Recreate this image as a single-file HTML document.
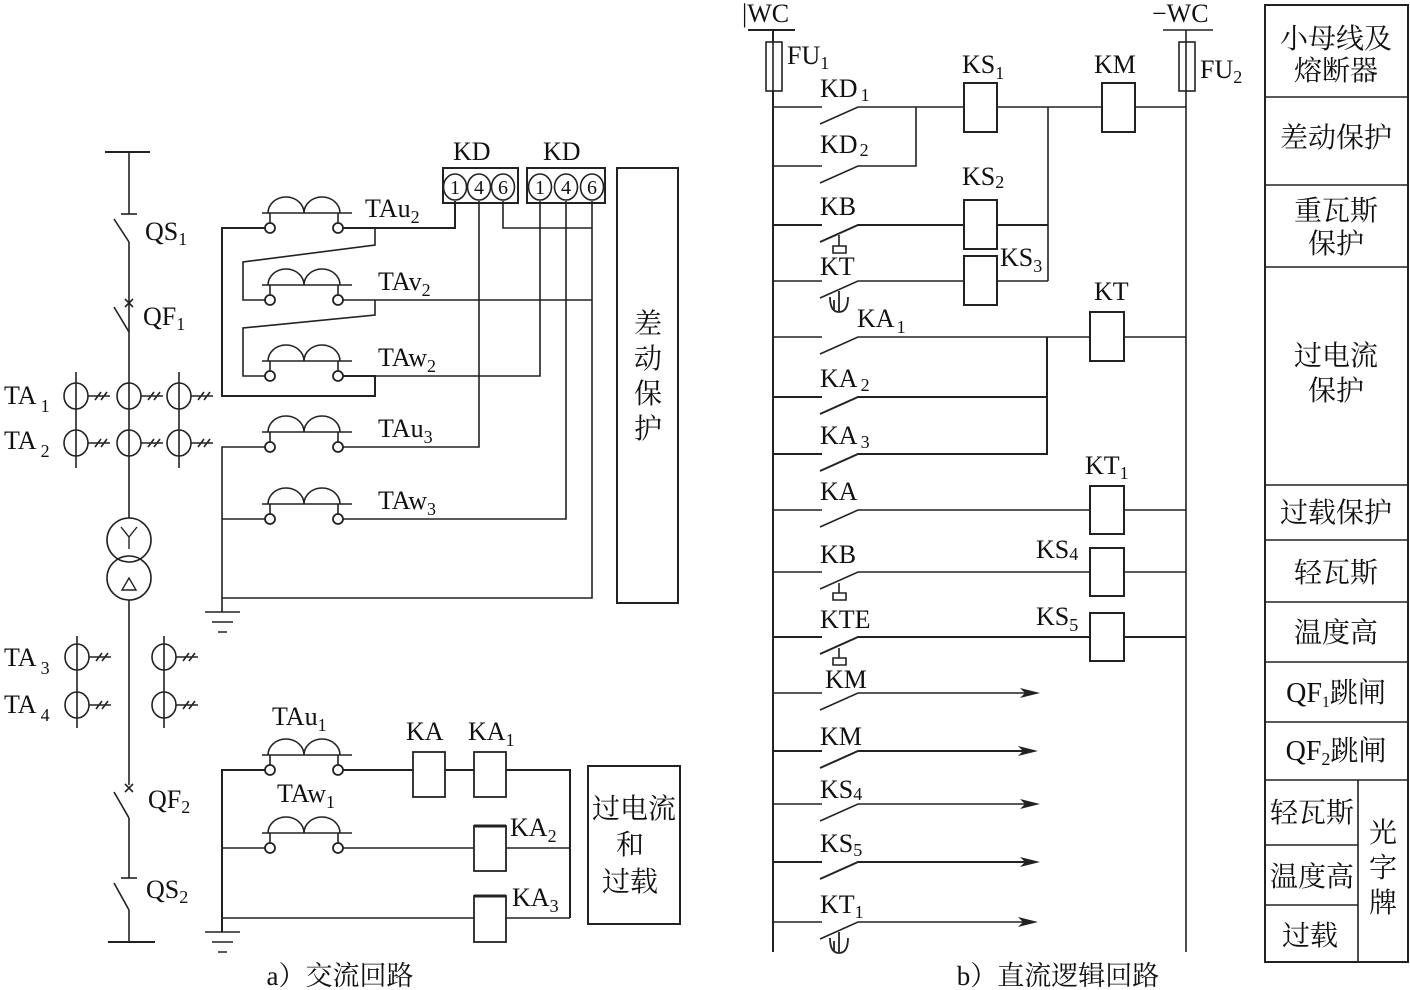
<!DOCTYPE html>
<html><head><meta charset="utf-8"><style>
html,body{margin:0;padding:0;background:#fff;}
svg{display:block;}
text{font-family:"Liberation Serif","Noto Serif CJK SC",serif;fill:#111;}
.c{font-family:"Liberation Serif","Noto Serif CJK SC","Noto Sans CJK SC",serif;}
</style></head><body>
<svg width="1410" height="990" viewBox="0 0 1410 990" xmlns="http://www.w3.org/2000/svg">
<g stroke="#222" stroke-width="1.6" fill="none">
<line x1="105" y1="152" x2="150" y2="152" stroke-width="2"/>
<line x1="129" y1="152" x2="129" y2="214"/>
<line x1="121" y1="214" x2="137" y2="214"/>
<line x1="114" y1="219" x2="129" y2="242"/>
<line x1="129" y1="242" x2="129" y2="518"/>
<path d="M125,299 l8,8 M133,299 l-8,8"/>
<line x1="114" y1="307" x2="129" y2="332"/>
<line x1="76" y1="372" x2="76" y2="468"/>
<line x1="179" y1="372" x2="179" y2="468"/>
<g>
<ellipse cx="76" cy="396" rx="12" ry="13"/><ellipse cx="129" cy="396" rx="12" ry="13"/><ellipse cx="179" cy="396" rx="12" ry="13"/>
<ellipse cx="76" cy="443" rx="12" ry="13"/><ellipse cx="129" cy="443" rx="12" ry="13"/><ellipse cx="179" cy="443" rx="12" ry="13"/>
<path d="M88,396 h22 M95,400 l6,-8 M101,400 l6,-8 M141,396 h22 M148,400 l6,-8 M154,400 l6,-8 M191,396 h22 M198,400 l6,-8 M204,400 l6,-8"/>
<path d="M88,443 h22 M95,447 l6,-8 M101,447 l6,-8 M141,443 h22 M148,447 l6,-8 M154,447 l6,-8 M191,443 h22 M198,447 l6,-8 M204,447 l6,-8"/>
</g>
<circle cx="129" cy="540" r="22"/><circle cx="129" cy="578" r="22"/>
<path d="M121,527 l8,10 l8,-10 M129,537 v12" stroke-width="1.4"/>
<path d="M122,590 l7,-12 l7,12 z" stroke-width="1.4"/>
<line x1="129" y1="600" x2="129" y2="785"/>
<line x1="77" y1="636" x2="77" y2="728"/><line x1="164" y1="636" x2="164" y2="728"/>
<ellipse cx="77" cy="657" rx="12" ry="13"/><ellipse cx="164" cy="657" rx="12" ry="13"/>
<ellipse cx="77" cy="705" rx="12" ry="13"/><ellipse cx="164" cy="705" rx="12" ry="13"/>
<path d="M89,657 h22 M96,661 l6,-8 M102,661 l6,-8 M176,657 h22 M183,661 l6,-8 M189,661 l6,-8"/>
<path d="M89,705 h22 M96,709 l6,-8 M102,709 l6,-8 M176,705 h22 M183,709 l6,-8 M189,709 l6,-8"/>
<path d="M125,784 l8,8 M133,784 l-8,8"/>
<line x1="114" y1="792" x2="129" y2="818"/>
<line x1="129" y1="818" x2="129" y2="878"/>
<line x1="121" y1="878" x2="137" y2="878"/>
<line x1="114" y1="883" x2="129" y2="910"/>
<line x1="129" y1="910" x2="129" y2="942"/>
<line x1="108" y1="942" x2="155" y2="942" stroke-width="2"/>

<g>
<path d="M268,213 a18,16 0 0 1 36,0 a18,16 0 0 1 36,0 M262,213 h90 M270,213 v10 M338,213 v10"/>
<path d="M268,285 a18,16 0 0 1 36,0 a18,16 0 0 1 36,0 M262,285 h90 M270,285 v10 M338,285 v10"/>
<path d="M268,361 a18,16 0 0 1 36,0 a18,16 0 0 1 36,0 M262,361 h90 M270,361 v10 M338,361 v10"/>
<path d="M268,432 a18,16 0 0 1 36,0 a18,16 0 0 1 36,0 M262,432 h90 M270,432 v10 M338,432 v10"/>
<path d="M268,504 a18,16 0 0 1 36,0 a18,16 0 0 1 36,0 M262,504 h90 M270,504 v10 M338,504 v10"/>
<path d="M268,755 a18,16 0 0 1 36,0 a18,16 0 0 1 36,0 M262,755 h90 M270,755 v10 M338,755 v10"/>
<path d="M268,833 a18,16 0 0 1 36,0 a18,16 0 0 1 36,0 M262,833 h90 M270,833 v10 M338,833 v10"/>
</g>
<g fill="#fff" stroke-width="1.8">
<circle cx="270" cy="228" r="5"/><circle cx="338" cy="228" r="5"/>
<circle cx="270" cy="300" r="5"/><circle cx="338" cy="300" r="5"/>
<circle cx="270" cy="376" r="5"/><circle cx="338" cy="376" r="5"/>
<circle cx="270" cy="447" r="5"/><circle cx="338" cy="447" r="5"/>
<circle cx="270" cy="519" r="5"/><circle cx="338" cy="519" r="5"/>
<circle cx="270" cy="770" r="5"/><circle cx="338" cy="770" r="5"/>
<circle cx="270" cy="848" r="5"/><circle cx="338" cy="848" r="5"/>
</g>
<path d="M265,228 H222 V396 H375 V376 H343" stroke-width="2"/>
<path d="M343,228 H455 V201" stroke-width="2"/>
<path d="M375,228 V245 L243,262 V300 H265"/>
<path d="M343,300 H592"/>
<path d="M375,300 V315 L243,328 V376 H265"/>
<path d="M343,376 H540 V201"/>
<path d="M503,201 V228 H592"/>
<path d="M592,201 V598 H222 V447 H265" />
<path d="M343,447 H479 V201"/>
<path d="M222,519 H265 M343,519 H566 V201"/>
<path d="M222,598 V612 M205,612 h35 M212,622 h21 M218,632 h9"/>
<rect x="443" y="168" width="75" height="35" stroke-width="2"/>
<rect x="527" y="168" width="78" height="35" stroke-width="2"/>
<ellipse cx="455" cy="187" rx="11.5" ry="13"/><ellipse cx="479" cy="187" rx="11.5" ry="13"/><ellipse cx="503" cy="187" rx="11.5" ry="13"/>
<ellipse cx="540" cy="187" rx="11.5" ry="13"/><ellipse cx="566" cy="187" rx="11.5" ry="13"/><ellipse cx="592" cy="187" rx="11.5" ry="13"/>
<rect x="617" y="168" width="61" height="435" stroke-width="2"/>
<path d="M265,770 H222 V932 M343,770 H413 M445,770 H474 M506,770 H570 V918" stroke-width="2"/>
<path d="M222,848 H265 M343,848 H474 M506,848 H570"/>
<path d="M222,918 H474 M506,918 H570"/>
<rect x="413" y="752" width="32" height="45" stroke-width="1.8"/>
<rect x="474" y="752" width="32" height="45" stroke-width="1.8"/>
<rect x="474" y="826" width="32" height="45" stroke-width="1.8"/>
<rect x="474" y="896" width="32" height="46" stroke-width="1.8"/>
<path d="M474,826 h32 M474,896 h32" stroke-width="3"/>
<path d="M205,932 h35 M212,942 h21 M218,952 h9"/>
<rect x="588" y="766" width="92" height="158" stroke-width="2"/>

<line x1="748" y1="30" x2="795" y2="30" stroke-width="2"/>
<line x1="1163" y1="30" x2="1213" y2="30"/>
<line x1="773" y1="30" x2="773" y2="952" stroke-width="2"/>
<line x1="1186" y1="30" x2="1186" y2="952"/>
<rect x="766" y="42" width="16" height="49" fill="#fff"/>
<rect x="1179" y="42" width="16" height="49" fill="#fff"/>
<line x1="773" y1="42" x2="773" y2="91"/><line x1="1186" y1="42" x2="1186" y2="91"/>
<path d="M773,107 H822 M820,124 L858,107 H964 M997,107 H1102 M1135,107 H1186"/>
<path d="M773,166 H822 M820,183 L858,166 H916 V107 M1048,107 V281"/>
<path d="M773,225 H822 M820,242 L858,225 H964 M997,225 H1048" stroke-width="2"/>
<path d="M839,235 v11 M833,246 h13 v7 h-13 z"/>
<path d="M773,281 H822 M820,298 L858,281 H964 M997,281 H1048"/>
<path d="M839,291 v20 M830,297 q0,15 9,15 q9,0 9,-15 M834,300 v10" stroke-width="1.8"/>
<path d="M773,337 H822 M820,354 L858,337 H1090 M1124,337 H1186"/>
<path d="M773,397 H822 M820,414 L858,397 H1047 V337" stroke-width="2"/>
<path d="M773,454 H822 M820,471 L858,454 H1047 V397" stroke-width="2"/>
<path d="M773,510 H822 M820,527 L858,510 H1090 M1124,510 H1186"/>
<path d="M773,572 H822 M820,589 L858,572 H1090 M1124,572 H1186"/>
<path d="M839,583 v10 M833,593 h13 v7 h-13 z"/>
<path d="M773,637 H822 M820,654 L858,637 H1090 M1124,637 H1186" stroke-width="2"/>
<path d="M839,648 v10 M833,658 h13 v7 h-13 z"/>
<path d="M773,693 H822 M820,710 L858,693 H1030"/>
<path d="M773,751 H822 M820,768 L858,751 H1030" stroke-width="2"/>
<path d="M773,804 H822 M820,821 L858,804 H1030"/>
<path d="M773,862 H822 M820,879 L858,862 H1030" stroke-width="2"/>
<path d="M773,922 H822 M820,939 L858,922 H1030"/>
<path d="M839,932 v20 M830,938 q0,15 9,15 q9,0 9,-15 M834,941 v10" stroke-width="1.8"/>
<g fill="#222" stroke="none">
<path d="M1040,693 l-20,-5 l5,5 l-5,5 z"/>
<path d="M1038,751 l-20,-5 l5,5 l-5,5 z"/>
<path d="M1040,804 l-20,-5 l5,5 l-5,5 z"/>
<path d="M1040,862 l-20,-5 l5,5 l-5,5 z"/>
<path d="M1038,922 l-20,-5 l5,5 l-5,5 z"/>
</g>
<g stroke-width="2" fill="#fff">
<rect x="964" y="83" width="33" height="49"/>
<rect x="1102" y="83" width="33" height="49"/>
<rect x="964" y="200" width="33" height="49"/>
<rect x="964" y="256" width="33" height="49"/>
<rect x="1090" y="312" width="34" height="49"/>
<rect x="1090" y="486" width="34" height="48"/>
<rect x="1090" y="548" width="34" height="48"/>
<rect x="1090" y="613" width="34" height="48"/>
</g>
<rect x="1265" y="5" width="143" height="957" stroke-width="2"/>
<path d="M1265,97 h143 M1265,185 h143 M1265,267 h143 M1265,485 h143 M1265,540 h143 M1265,602 h143 M1265,662 h143 M1265,722 h143 M1265,780 h143 M1265,845 h93 M1265,905 h93 M1358,780 v182"/>
</g>

<g font-size="26">
<text x="145" y="240">QS<tspan font-size="18" dy="5">1</tspan></text>
<text x="143" y="325">QF<tspan font-size="18" dy="5">1</tspan></text>
<text x="4" y="404">TA<tspan font-size="18" dx="4" dy="8">1</tspan></text>
<text x="4" y="449">TA<tspan font-size="18" dx="4" dy="8">2</tspan></text>
<text x="4" y="666">TA<tspan font-size="18" dx="4" dy="8">3</tspan></text>
<text x="4" y="713">TA<tspan font-size="18" dx="4" dy="8">4</tspan></text>
<text x="148" y="808">QF<tspan font-size="18" dy="5">2</tspan></text>
<text x="146" y="898">QS<tspan font-size="18" dy="5">2</tspan></text>
<text x="365" y="217">TAu<tspan font-size="18" dy="6">2</tspan></text>
<text x="378" y="290">TAv<tspan font-size="18" dy="6">2</tspan></text>
<text x="378" y="366">TAw<tspan font-size="18" dy="6">2</tspan></text>
<text x="378" y="437">TAu<tspan font-size="18" dy="6">3</tspan></text>
<text x="378" y="509">TAw<tspan font-size="18" dy="6">3</tspan></text>
<text x="453" y="160">KD</text>
<text x="543" y="160">KD</text>
<g font-size="20" text-anchor="middle"><text x="455" y="194">1</text><text x="479" y="194">4</text><text x="503" y="194">6</text><text x="540" y="194">1</text><text x="566" y="194">4</text><text x="592" y="194">6</text></g>
<text x="272" y="725">TAu<tspan font-size="18" dy="6">1</tspan></text>
<text x="277" y="802">TAw<tspan font-size="18" dy="6">1</tspan></text>
<text x="406" y="740">KA</text>
<text x="468" y="740">KA<tspan font-size="18" dy="6">1</tspan></text>
<text x="510" y="836">KA<tspan font-size="18" dy="6">2</tspan></text>
<text x="512" y="906">KA<tspan font-size="18" dy="6">3</tspan></text>

<text x="742" y="22">|WC</text>
<text x="1152" y="22">−WC</text>
<text x="787" y="64">FU<tspan font-size="18" dy="5">1</tspan></text>
<text x="1200" y="78">FU<tspan font-size="18" dy="5">2</tspan></text>
<text x="820" y="97">KD<tspan font-size="18" dx="3" dy="4">1</tspan></text>
<text x="820" y="153">KD<tspan font-size="18" dx="2" dy="3">2</tspan></text>
<text x="962" y="73">KS<tspan font-size="18" dy="6">1</tspan></text>
<text x="1094" y="73">KM</text>
<text x="962" y="185">KS<tspan font-size="18" dy="3">2</tspan></text>
<text x="820" y="215">KB</text>
<text x="820" y="275">KT</text>
<text x="1000" y="266">KS<tspan font-size="18" dy="6">3</tspan></text>
<text x="1094" y="300">KT</text>
<text x="857" y="327">KA<tspan font-size="18" dx="2" dy="6">1</tspan></text>
<text x="820" y="387">KA<tspan font-size="18" dx="3" dy="4">2</tspan></text>
<text x="820" y="444">KA<tspan font-size="18" dx="3" dy="4">3</tspan></text>
<text x="1085" y="474">KT<tspan font-size="18" dy="5">1</tspan></text>
<text x="820" y="500">KA</text>
<text x="1036" y="558">KS<tspan font-size="18" dy="2">4</tspan></text>
<text x="820" y="563">KB</text>
<text x="1036" y="625">KS<tspan font-size="18" dy="6">5</tspan></text>
<text x="820" y="628">KTE</text>
<text x="825" y="688">KM</text>
<text x="820" y="745">KM</text>
<text x="820" y="798">KS<tspan font-size="18" dy="2">4</tspan></text>
<text x="820" y="852">KS<tspan font-size="18" dy="4">5</tspan></text>
<text x="820" y="913">KT<tspan font-size="18" dy="5">1</tspan></text>
</g>
<g class="c" font-size="28" text-anchor="middle">
<text x="648" y="333">差</text><text x="648" y="368">动</text><text x="648" y="403">保</text><text x="648" y="438">护</text>
<text x="634" y="818">过电流</text><text x="630" y="854">和</text><text x="630" y="891">过载</text>
<text x="340" y="985" font-size="27">a）交流回路</text>
<text x="1058" y="985" font-size="27">b）直流逻辑回路</text>
<text x="1336" y="48">小母线及</text><text x="1336" y="80">熔断器</text>
<text x="1336" y="147">差动保护</text>
<text x="1336" y="220">重瓦斯</text><text x="1336" y="253">保护</text>
<text x="1336" y="365">过电流</text><text x="1336" y="400">保护</text>
<text x="1336" y="522">过载保护</text>
<text x="1336" y="582">轻瓦斯</text>
<text x="1336" y="642">温度高</text>
<text x="1336" y="702">QF<tspan font-size="16" dy="5">1</tspan><tspan dy="-5">跳闸</tspan></text>
<text x="1336" y="760">QF<tspan font-size="18" dy="5">2</tspan><tspan dy="-5">跳闸</tspan></text>
<text x="1312" y="822">轻瓦斯</text>
<text x="1312" y="886">温度高</text>
<text x="1310" y="945">过载</text>
<text x="1383" y="842">光</text><text x="1383" y="877">字</text><text x="1383" y="912">牌</text>
</g>
</svg>
</body></html>
